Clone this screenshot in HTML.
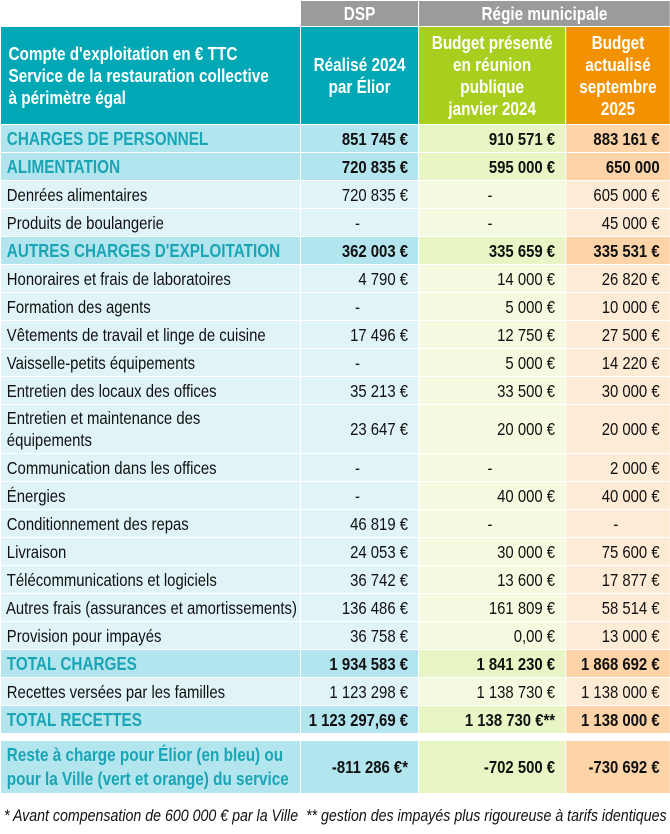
<!DOCTYPE html>
<html><head><meta charset="utf-8"><style>
body{margin:0;background:#fff;width:670px;height:834px;overflow:hidden;font-family:"Liberation Sans",sans-serif;}
table{position:absolute;left:0;top:0;border-collapse:collapse;table-layout:fixed;width:788px;transform:scaleX(0.85);transform-origin:0 0;}
td{border:1.5px solid #fff;padding:0 7px;font-size:17.5px;color:#111;height:27px;line-height:18px;white-space:nowrap;overflow:hidden;}
td.n{text-align:right;padding-right:12px;}
tr.h1 td{height:25px;background:#9b9b9b;color:#fff;font-weight:bold;text-align:center;font-size:18px;}
tr.h1 td.e{background:#fff;}
tr.h2 td{height:97px;color:#fff;font-weight:bold;font-size:18px;line-height:22px;text-align:center;white-space:nowrap;}
tr.h2 td.a{background:#00a8b5;text-align:left;padding-left:9px;}
tr.h2 td.b{background:#00a8b5;}
tr.h2 td.c{background:#a8ce1e;}
tr.h2 td.d{background:#f39200;}
tr.r td.a,tr.r td.b{background:#e0f4f8;}
tr.r td.c{background:#f4fadf;}
tr.r td.d{background:#feebd6;}
tr.k td{font-weight:bold;}
tr.k td.a,tr.k td.b{background:#b3e5ee;}
tr.k td.a{color:#1aa5b5;font-size:18px;}
tr.k td.c{background:#e8f5c4;}
tr.k td.d{background:#fdd4a8;}
tr.t td{height:48px;line-height:22px;}
tr.t2 td{height:52px;line-height:24px;}
tr.g td{height:6px;background:#fff!important;border:none;padding:0;}
.foot{position:absolute;left:4px;top:806px;font-style:italic;font-size:17px;color:#111;white-space:nowrap;transform:scaleX(0.835);transform-origin:0 0;}
</style></head><body>
<table>
<colgroup><col style="width:353px"><col style="width:139px"><col style="width:173px"><col style="width:123px"></colgroup>
<tr class="h1"><td class="e"></td><td>DSP</td><td colspan="2">Régie municipale</td></tr>
<tr class="h2"><td class="a">Compte d'exploitation en € TTC<br>Service de la restauration collective<br>à périmètre égal</td><td class="b">Réalisé 2024<br>par Élior</td><td class="c">Budget présenté<br>en réunion<br>publique<br>janvier 2024</td><td class="d">Budget<br>actualisé<br>septembre<br>2025</td></tr>
<tr class="k"><td class="a">CHARGES DE PERSONNEL</td><td class="b n">851 745 €</td><td class="c n">910 571 €</td><td class="d n">883 161 €</td></tr>
<tr class="k"><td class="a">ALIMENTATION</td><td class="b n">720 835 €</td><td class="c n">595 000 €</td><td class="d n">650 000</td></tr>
<tr class="r"><td class="a">Denrées alimentaires</td><td class="b n">720 835 €</td><td class="c n" style="text-align:center">-</td><td class="d n">605 000 €</td></tr>
<tr class="r"><td class="a">Produits de boulangerie</td><td class="b n" style="text-align:center">-</td><td class="c n" style="text-align:center">-</td><td class="d n">45 000 €</td></tr>
<tr class="k"><td class="a">AUTRES CHARGES D'EXPLOITATION</td><td class="b n">362 003 €</td><td class="c n">335 659 €</td><td class="d n">335 531 €</td></tr>
<tr class="r"><td class="a">Honoraires et frais de laboratoires</td><td class="b n">4 790 €</td><td class="c n">14 000 €</td><td class="d n">26 820 €</td></tr>
<tr class="r"><td class="a">Formation des agents</td><td class="b n" style="text-align:center">-</td><td class="c n">5 000 €</td><td class="d n">10 000 €</td></tr>
<tr class="r"><td class="a">Vêtements de travail et linge de cuisine</td><td class="b n">17 496 €</td><td class="c n">12 750 €</td><td class="d n">27 500 €</td></tr>
<tr class="r"><td class="a">Vaisselle-petits équipements</td><td class="b n" style="text-align:center">-</td><td class="c n">5 000 €</td><td class="d n">14 220 €</td></tr>
<tr class="r"><td class="a">Entretien des locaux des offices</td><td class="b n">35 213 €</td><td class="c n">33 500 €</td><td class="d n">30 000 €</td></tr>
<tr class="r t"><td class="a">Entretien et maintenance des<br>équipements</td><td class="b n">23 647 €</td><td class="c n">20 000 €</td><td class="d n">20 000 €</td></tr>
<tr class="r"><td class="a">Communication dans les offices</td><td class="b n" style="text-align:center">-</td><td class="c n" style="text-align:center">-</td><td class="d n">2 000 €</td></tr>
<tr class="r"><td class="a">Énergies</td><td class="b n" style="text-align:center">-</td><td class="c n">40 000 €</td><td class="d n">40 000 €</td></tr>
<tr class="r"><td class="a">Conditionnement des repas</td><td class="b n">46 819 €</td><td class="c n" style="text-align:center">-</td><td class="d n" style="text-align:center">-</td></tr>
<tr class="r"><td class="a">Livraison</td><td class="b n">24 053 €</td><td class="c n">30 000 €</td><td class="d n">75 600 €</td></tr>
<tr class="r"><td class="a">Télécommunications et logiciels</td><td class="b n">36 742 €</td><td class="c n">13 600 €</td><td class="d n">17 877 €</td></tr>
<tr class="r"><td class="a" style="padding-left:6px">Autres frais (assurances et amortissements)</td><td class="b n">136 486 €</td><td class="c n">161 809 €</td><td class="d n">58 514 €</td></tr>
<tr class="r"><td class="a">Provision pour impayés</td><td class="b n">36 758 €</td><td class="c n">0,00 €</td><td class="d n">13 000 €</td></tr>
<tr class="k"><td class="a">TOTAL CHARGES</td><td class="b n">1 934 583 €</td><td class="c n">1 841 230 €</td><td class="d n">1 868 692 €</td></tr>
<tr class="r"><td class="a">Recettes versées par les familles</td><td class="b n">1 123 298 €</td><td class="c n">1 138 730 €</td><td class="d n">1 138 000 €</td></tr>
<tr class="k"><td class="a">TOTAL RECETTES</td><td class="b n">1 123 297,69 €</td><td class="c n">1 138 730 €**</td><td class="d n">1 138 000 €</td></tr>
<tr class="g"><td></td><td></td><td></td><td></td></tr>
<tr class="k t2"><td class="a">Reste à charge pour Élior (en bleu) ou<br>pour la Ville (vert et orange) du service</td><td class="b n">-811 286 €*</td><td class="c n">-702 500 €</td><td class="d n">-730 692 €</td></tr>
</table>
<div class="foot">* Avant compensation de 600 000 € par la Ville &nbsp;** gestion des impayés plus rigoureuse à tarifs identiques</div>
</body></html>
